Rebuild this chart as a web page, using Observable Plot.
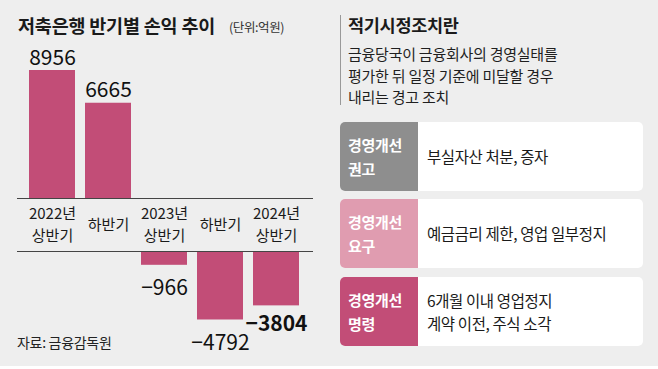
<!DOCTYPE html>
<html>
<head>
<meta charset="utf-8">
<script src="https://cdn.jsdelivr.net/npm/d3@7"></script>
<script src="https://cdn.jsdelivr.net/npm/@observablehq/plot@0.6"></script>
<style>
  html, body { margin: 0; padding: 0; background: #ffffff; }
  #page { position: relative; width: 658px; height: 366px; background: #eeeeee; overflow: hidden;
          font-family: "Noto Sans CJK KR", "Noto Sans", sans-serif; color: #222; }
  .abs { position: absolute; white-space: nowrap; }
  #title { left: 18px; top: 12px; font-size: 18.5px; font-weight: 700; line-height: 26px; letter-spacing: -0.2px; color: #1a1a1a; }
  #unit { left: 229px; top: 18px; font-size: 12.5px; line-height: 18px; color: #333; letter-spacing: -0.4px; }
  #source { left: 17px; top: 332px; font-size: 14px; line-height: 20px; color: #222; letter-spacing: -0.3px; }
  #chart { left: 0; top: 0; }
  #vline { left: 340px; top: 15px; width: 1px; height: 90px; background: #999; }
  #rtitle { left: 348px; top: 12px; font-size: 17.5px; font-weight: 700; line-height: 26px; letter-spacing: -0.3px; color: #1a1a1a; }
  #rdesc { left: 348px; top: 43px; font-size: 15px; line-height: 21.5px; color: #1f1f1f; letter-spacing: -0.25px; }
  .box { position: absolute; left: 340px; width: 303px; height: 69px; background: #fff; border-radius: 5px; display: flex; }
  .lab { width: 78px; border-radius: 5px 0 0 5px; color: #fff; font-weight: 700; font-size: 15px; line-height: 24px;
         padding-left: 8px; box-sizing: border-box; display: flex; align-items: center; letter-spacing: -0.3px; }
  .txt { padding-left: 9px; font-size: 15.5px; line-height: 22.5px; color: #1a1a1a; display: flex; align-items: center; letter-spacing: -0.4px; }
</style>
</head>
<body>
<div id="page">
  <div id="chart" class="abs"></div>
  <div id="title" class="abs"></div>
  <div id="unit" class="abs"></div>
  <div id="source" class="abs"></div>
  <div id="vline" class="abs"></div>
  <div id="rtitle" class="abs"></div>
  <div id="rdesc" class="abs"></div>
  <div id="boxes"></div>
</div>
<script>
// ---- data ----
const periods = ["2022-H1", "2022-H2", "2023-H1", "2023-H2", "2024-H1"];
const periodLabels = ["2022년\n상반기", "하반기", "2023년\n상반기", "하반기", "2024년\n상반기"];
const profits = [8956, 6665, -966, -4792, -3804];
const valueLabels = ["8956", "6665", "−966", "−4792", "−3804"];
const boldValue = [false, false, false, false, true];

const titleText = "저축은행 반기별 손익 추이";
const unitText = "(단위:억원)";
const sourceText = "자료: 금융감독원";

const panelTitle = "적기시정조치란";
const panelDesc = ["금융당국이 금융회사의 경영실태를", "평가한 뒤 일정 기준에 미달할 경우", "내리는 경고 조치"];
const stepNames = ["경영개선\n권고", "경영개선\n요구", "경영개선\n명령"];
const stepActions = ["부실자산 처분, 증자", "예금금리 제한, 영업 일부정지", "6개월 이내 영업정지\n계약 이전, 주식 소각"];
const stepColors = ["#8e8e8e", "#e09cb0", "#c24d77"];

// ---- texts ----
document.getElementById("title").textContent = titleText;
document.getElementById("unit").textContent = unitText;
document.getElementById("source").textContent = sourceText;
document.getElementById("rtitle").textContent = panelTitle;
document.getElementById("rdesc").innerHTML = panelDesc.join("<br>");

const boxTops = [122, 199, 277];
const boxes = document.getElementById("boxes");
stepNames.forEach((n, i) => {
  const b = document.createElement("div");
  b.className = "box";
  b.style.top = boxTops[i] + "px";
  const l = document.createElement("div");
  l.className = "lab";
  l.style.background = stepColors[i];
  l.innerHTML = n.replace("\n", "<br>");
  const t = document.createElement("div");
  t.className = "txt";
  t.innerHTML = stepActions[i].replace("\n", "<br>");
  b.appendChild(l); b.appendChild(t);
  boxes.appendChild(b);
});

// ---- chart ----
const data = periods.map((p, i) => ({p, label: periodLabels[i], v: profits[i], vl: valueLabels[i], bold: boldValue[i]}));
const gap = 53; // band for category labels between positive and negative baselines
const barColor = "#c24d77";
const numFont = "'Liberation Sans Narrow', 'Arial Narrow', 'Noto Sans CJK KR', sans-serif";

const chart = Plot.plot({
  width: 330,
  height: 366,
  marginLeft: 17,
  marginRight: 17,
  marginTop: 0,
  marginBottom: 0,
  style: {background: "transparent", overflow: "visible"},
  x: {domain: periods, range: [28, 301], paddingInner: 0.17, paddingOuter: 0, axis: null},
  y: {domain: [0, 8956], range: [198, 70], axis: null},
  marks: [
    Plot.barY(data, {filter: d => d.v > 0, x: "p", y: "v", fill: barColor}),
    Plot.barY(data, {filter: d => d.v < 0, x: "p", y: "v", fill: barColor, dy: gap}),
    Plot.ruleY([0], {stroke: "#444", strokeWidth: 1}),
    Plot.ruleY([0], {stroke: "#444", strokeWidth: 1, dy: gap}),
    Plot.text(data, {filter: d => d.v > 0, x: "p", y: "v", text: "vl", lineAnchor: "bottom", dy: -6,
      fontSize: 21, fontFamily: numFont, fill: "#111"}),
    Plot.text(data, {filter: d => d.v < 0 && !d.bold, x: "p", y: "v", text: "vl", lineAnchor: "top", dy: gap + 15,
      fontSize: 21, fontFamily: numFont, fill: "#111"}),
    Plot.text(data, {filter: d => d.v < 0 && d.bold, x: "p", y: "v", text: "vl", lineAnchor: "top", dy: gap + 10,
      fontSize: 21, fontWeight: 700, fontFamily: numFont, fill: "#111"}),
    Plot.text(data, {x: "p", y: d => 0, text: "label", lineAnchor: "middle", dy: gap / 2 - 2, lineHeight: 1.45,
      fontSize: 15, fontFamily: numFont, fill: "#1a1a1a"})
  ]
});
document.getElementById("chart").appendChild(chart);
</script>
</body>
</html>
